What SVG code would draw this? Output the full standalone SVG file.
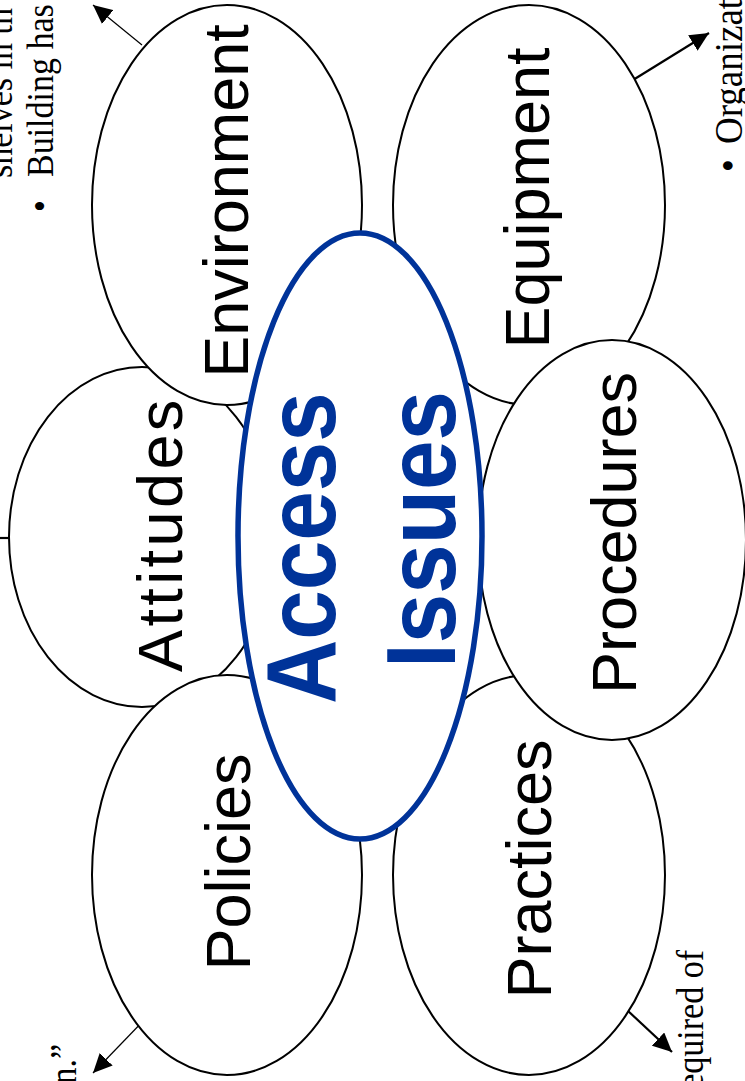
<svg xmlns="http://www.w3.org/2000/svg" width="745" height="1081" viewBox="0 0 745 1081">
<style>
.ell{fill:#fff;stroke:#000;stroke-width:2}
.center{fill:#fff;stroke:#003399;stroke-width:5.5}
.lbl{font-family:"Liberation Sans",Arial,sans-serif;font-size:63px;fill:#000}
.big{font-family:"Liberation Sans",Arial,sans-serif;font-size:89px;font-weight:bold;fill:#003399}
.side{font-family:"Liberation Serif","Times New Roman",serif;font-size:34px;fill:#000}
.side2{font-family:"Liberation Serif","Times New Roman",serif;font-size:37px;fill:#000}
.thin{stroke:#000;stroke-width:1.2;fill:none}
.thick{stroke:#000;stroke-width:2.2;fill:none}
</style>
<defs>
<marker id="ah" markerUnits="userSpaceOnUse" markerWidth="20" markerHeight="18" refX="19" refY="9" orient="auto">
<path d="M0,0 L19,9 L0,18 Z" fill="#000"/>
</marker>
</defs>
<rect width="745" height="1081" fill="#fff"/>

<g id="side-texts">
<text class="side" transform="translate(12,178) rotate(-90) scale(1,1.1)">shelves in th</text>
<text class="side" transform="translate(53,212) rotate(-90) scale(1,1.1)">•</text>
<text class="side" transform="translate(53,177) rotate(-90) scale(1,1.1)">Building has</text>
<text class="side2" transform="translate(742,172) rotate(-90) scale(1,1.1)">•</text>
<text class="side2" transform="translate(742,144) rotate(-90) scale(1,1.1)">Organizat</text>
<text class="side" text-anchor="end" transform="translate(76,1044) rotate(-90) scale(1,1.1)">n.”</text>
<text class="side" text-anchor="end" transform="translate(703,950) rotate(-90) scale(1,1.1)">equired of</text>
</g>

<g id="connectors">
<line class="thin" x1="142" y1="45" x2="93" y2="5" marker-end="url(#ah)"/>
<line class="thick" x1="633" y1="80" x2="709" y2="33" marker-end="url(#ah)"/>
<line class="thin" x1="147" y1="1017" x2="93" y2="1073" marker-end="url(#ah)"/>
<line class="thick" x1="627" y1="1010" x2="672" y2="1052" marker-end="url(#ah)"/>
<line class="thick" x1="0" y1="538" x2="10" y2="538"/>
</g>

<g id="attitudes">
<ellipse class="ell" cx="142" cy="537" rx="133" ry="170"/>
<text class="lbl" letter-spacing="3.4" transform="translate(182,672) rotate(-90)">Attitudes</text>
</g>
<g id="environment">
<ellipse class="ell" cx="227" cy="205" rx="135" ry="200"/>
<text class="lbl" text-anchor="middle" transform="translate(248,201) rotate(-90)">Environment</text>
</g>
<g id="policies">
<ellipse class="ell" cx="227" cy="875" rx="135" ry="200"/>
<text class="lbl" text-anchor="middle" transform="translate(250,862) rotate(-90)">Policies</text>
</g>
<g id="equipment">
<ellipse class="ell" cx="529" cy="205" rx="136" ry="200"/>
<text class="lbl" text-anchor="middle" transform="translate(549,198) rotate(-90)">Equipment</text>
</g>
<g id="practices">
<ellipse class="ell" cx="529" cy="875" rx="136" ry="200"/>
<text class="lbl" text-anchor="middle" transform="translate(551,869) rotate(-90)">Practices</text>
</g>
<g id="procedures">
<ellipse class="ell" cx="612" cy="540" rx="134" ry="200"/>
<text class="lbl" text-anchor="middle" transform="translate(636,533) rotate(-90)">Procedures</text>
</g>
<g id="access-issues">
<ellipse class="center" cx="360" cy="536" rx="122" ry="303"/>
<text class="big" transform="translate(335,704) rotate(-90) scale(1,1.1)">Access</text>
<text class="big" transform="translate(455,668) rotate(-90) scale(1,1.1)">Issues</text>
</g>
</svg>
